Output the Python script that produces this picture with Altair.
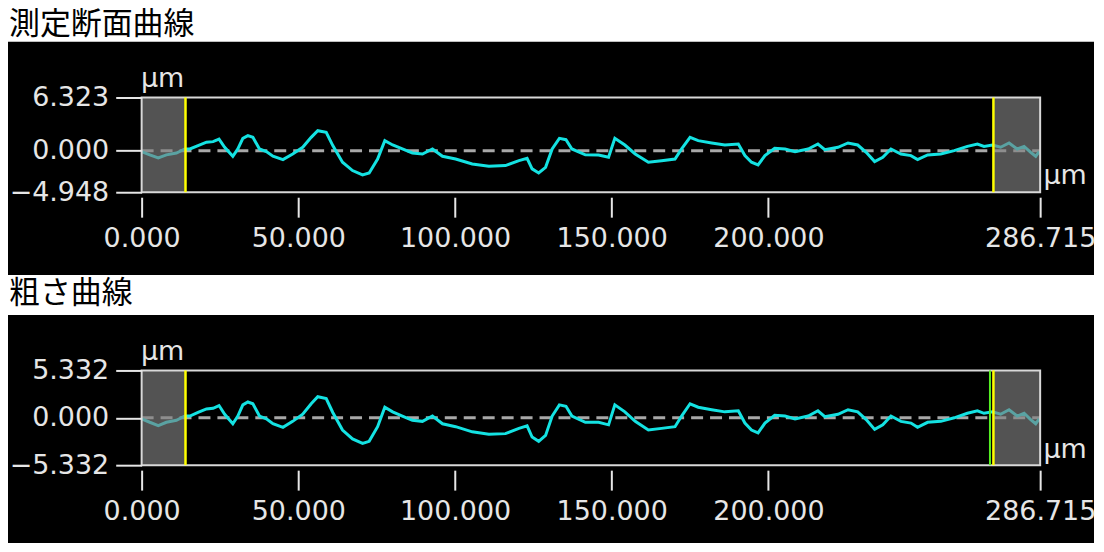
import altair as alt
import pandas as pd

# ---- data ----
x_um = [0, 2.6, 5.3, 7.9, 11.1, 13.8, 15.4, 18.0, 20.7, 22.8, 24.7, 26.5, 29.1, 30.7,
        32.3, 33.9, 35.5, 37.6, 39.8, 41.9, 45.1, 48.2, 51.4, 54.1, 56.2, 58.9, 61.0,
        64.1, 67.3, 70.5, 72.6, 75.3, 77.6, 80.1, 83.2, 86.4, 89.6, 92.8, 96.0, 100.2,
        105.5, 110.8, 116.1, 120.4, 123.0, 124.6, 126.7, 128.9, 131.0, 133.3, 135.4,
        137.3, 141.6, 145.8, 149.0, 151.0, 154.2, 157.5, 161.7, 165.9, 170.2, 172.3,
        175.0, 177.6, 181.9, 186.1, 190.4, 192.5, 194.6, 196.7, 198.9, 202.0, 205.3,
        208.5, 212.7, 215.8, 218.0, 222.2, 225.4, 228.5, 231.2, 233.9, 236.5, 239.1,
        242.3, 245.5, 247.6, 250.8, 255.0, 259.3, 263.5, 266.7, 268.8, 271.5, 274.1,
        276.8, 279.4, 281.6, 283.7, 285.3, 286.4]
profile_um = [-0.12, -0.5, -0.87, -0.5, -0.28, 0.2, 0.2, 0.6, 1.0, 1.07, 1.38, 0.4, -0.67, 0.2,
              1.46, 1.78, 1.58, 0.2, -0.12, -0.67, -1.07, -0.4, 0.4, 1.58, 2.37, 2.17, 0.6,
              -1.38, -2.37, -2.89, -2.65, -1.0, 1.19, 0.67, 0.2, -0.28, -0.4, 0.2, -0.67, -1.0,
              -1.58, -1.86, -1.78, -1.19, -0.91, -2.17, -2.65, -1.98, 0.2, 1.46, 1.3,
              0.2, -0.5, -0.51, -0.79, 1.46, 0.67, -0.4, -1.38, -1.19, -1.0, 0.2,
              1.58, 1.19, 0.91, 0.67, 0.79, -0.59, -1.38, -1.7, -0.59, 0.28, 0.2,
              -0.12, 0.2, 0.79, 0.12, 0.4, 0.91, 0.67, -0.2, -1.3, -0.79, 0.2,
              -0.4, -0.59, -1.07, -0.51, -0.4, 0.0, 0.51, 0.79, 0.51, 0.67, 0.4,
              0.91, 0.2, 0.51, -0.2, -0.67, -0.12]
roughness_um = profile_um  # the roughness curve reads the same as the profile

x_max = 286.715
x_ticks = [0, 50, 100, 150, 200, 286.715]
profile_range = [-4.948, 6.323]
roughness_range = [-5.332, 5.332]
cutoffs = [14.0, 271.8]
titles = ["測定断面曲線", "粗さ曲線"]

W, H = 901, 95
CYAN = "#14e2e2"
TXT = "#e6e6e6"
NUMFONT = "DejaVu Sans"
NUMSIZE = 27


def panel(title, ys, yr, black_top, black_bottom, title_y, mu_left_y, mu_right_y, green=False):
    df = pd.DataFrame({"x": x_um, "y": ys})
    one = pd.DataFrame({"a": [0]})
    xsc = alt.Scale(domain=[0, x_max], nice=False, zero=False)
    ysc = alt.Scale(domain=yr, nice=False, zero=False)

    black = alt.Chart(one).mark_rect(color="black").encode(
        x=alt.value(-134), x2=alt.value(955), y=alt.value(black_top), y2=alt.value(black_bottom))
    ttl = alt.Chart(one).mark_text(align="left", baseline="middle", fontSize=31,
                                   font="Noto Sans CJK JP", color="black").encode(
        x=alt.value(-133), y=alt.value(title_y), text=alt.value(title))

    zero = alt.Chart(one).mark_rule(color="#a8a8a8", strokeWidth=3, strokeDash=[12, 7]).encode(
        y=alt.datum(0), x=alt.value(0), x2=alt.value(W))

    line = alt.Chart(df).mark_line(color=CYAN, strokeWidth=3).encode(
        x=alt.X("x:Q", scale=xsc, axis=alt.Axis(
            values=x_ticks, format=".3f", title=None, grid=False, domain=False,
            tickSize=20, tickWidth=2, tickColor=TXT, offset=5, labelPadding=8,
            labelFontSize=NUMSIZE, labelFont=NUMFONT, labelColor=TXT, labelFlush=False,
            labelOverlap=False, labelBound=False, zindex=1)),
        y=alt.Y("y:Q", scale=ysc, axis=alt.Axis(
            values=[yr[0], 0, yr[1]], format=".3f", title=None, grid=False, domain=False,
            tickSize=26, tickWidth=2, tickColor=TXT, labelPadding=7,
            labelFontSize=NUMSIZE, labelFont=NUMFONT, labelColor=TXT, labelOverlap=False,
            zindex=1)))

    cut_df = pd.DataFrame({"s": [0, cutoffs[1]], "e": [cutoffs[0], x_max]})
    shade = alt.Chart(cut_df).mark_rect(color="#808080", opacity=0.65).encode(
        x=alt.X("s:Q", title=None), x2="e:Q", y=alt.value(0), y2=alt.value(H))

    frame = alt.Chart(one).mark_rect(fill=None, fillOpacity=0, stroke="#d8d8d8", strokeWidth=2).encode(
        x=alt.value(0), x2=alt.value(W), y=alt.value(0), y2=alt.value(H))

    layers = [black, ttl, zero, line, shade, frame]
    if green:
        g_df = pd.DataFrame({"c": [cutoffs[1] - 1.1]})
        layers.append(alt.Chart(g_df).mark_rule(color="#55ee22", strokeWidth=2).encode(
            x=alt.X("c:Q", title=None), y=alt.value(0), y2=alt.value(H)))
    ydf = pd.DataFrame({"c": cutoffs})
    layers.append(alt.Chart(ydf).mark_rule(color="#ffff00", strokeWidth=2.5).encode(
        x=alt.X("c:Q", title=None), y=alt.value(0), y2=alt.value(H)))

    mu = alt.Chart(one).mark_text(fontSize=NUMSIZE, font=NUMFONT, color=TXT,
                                  align="center", baseline="middle")
    layers.append(mu.encode(x=alt.value(21), y=alt.value(mu_left_y), text=alt.value("μm")))
    layers.append(mu.encode(x=alt.value(926), y=alt.value(mu_right_y), text=alt.value("μm")))

    return alt.layer(*layers).properties(width=W, height=H)


p1 = panel(titles[0], profile_um, profile_range, black_top=-56, black_bottom=178,
           title_y=-73, mu_left_y=-19, mu_right_y=79)
p2 = panel(titles[1], roughness_um, roughness_range, black_top=-55.7, black_bottom=173,
           title_y=-77, mu_left_y=-18, mu_right_y=80, green=True)

chart = alt.vconcat(p1, p2, spacing=178.7, bounds="flush").properties(
    padding=0, background="white"
).configure_view(stroke=None)

chart.save("out.html", embed_options={"renderer": "svg", "actions": False})
